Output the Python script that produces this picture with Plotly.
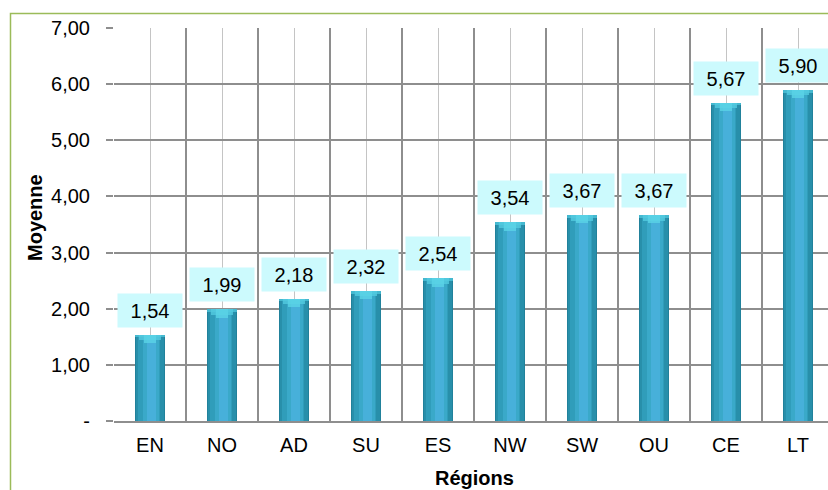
import plotly.graph_objects as go

# Average score by region
regions = ["EN", "NO", "AD", "SU", "ES", "NW", "SW", "OU", "CE", "LT"]
moyennes = [1.54, 1.99, 2.18, 2.32, 2.54, 3.54, 3.67, 3.67, 5.67, 5.90]
y_ticks = [0, 1, 2, 3, 4, 5, 6, 7]
y_ticktext = ["-", "1,00", "2,00", "3,00", "4,00", "5,00", "6,00", "7,00"]

W, H = 828, 490
L, R, T, B = 114, 0, 28, 69
pw, ph = W - L - R, H - T - B

def px_x(x):
    return (x - L) / pw

def px_y(y):
    return (H - B - y) / ph

x = list(range(len(regions)))
FONT = "Liberation Sans, Arial"

fig = go.Figure()

# Layered bars of decreasing width give a cylindrical shading
layers = [
    (0.43, "#21819b", 0.0),
    (0.38, "#288faa", 0.0),
    (0.31, "#309dba", -0.01),
    (0.22, "#3aa9c9", 0.01),
    (0.12, "#47b0da", 0.02),
]
for w, c, off in layers:
    fig.add_trace(go.Bar(
        x=x, y=moyennes, width=w, offset=-w / 2 + off,
        marker=dict(color=c, line=dict(width=0)),
        hoverinfo="skip", showlegend=False,
    ))

# V-shaped light cap at the top of each column
caps = [
    (0.42, 0.05, "#4cc3da"),
    (0.30, 0.10, "#52cbe0"),
    (0.16, 0.15, "#5ad3e6"),
]
for w, hgt, c in caps:
    fig.add_trace(go.Bar(
        x=x, y=[hgt] * len(x), base=[v - hgt for v in moyennes], width=w,
        marker=dict(color=c, line=dict(width=0), opacity=0.8),
        hoverinfo="skip", showlegend=False,
    ))

# Value labels in light cyan boxes
for xi, v in zip(x, moyennes):
    fig.add_annotation(
        x=xi, y=v, xref="x", yref="y",
        text=f"{v:.2f}".replace(".", ","),
        showarrow=False, xanchor="center", yanchor="bottom", yshift=7,
        bgcolor="#ccfafd", width=60, height=29, borderpad=2,
        font=dict(family=FONT, size=20, color="#000000"),
    )

# Axis titles
fig.add_annotation(
    x=px_x(35), y=px_y(218), xref="paper", yref="paper",
    xanchor="center", yanchor="middle",
    text="<b>Moyenne</b>", textangle=-90, showarrow=False,
    font=dict(family=FONT, size=20, color="#000000"),
)
fig.add_annotation(
    x=px_x(474), y=px_y(478), xref="paper", yref="paper",
    xanchor="center", yanchor="middle",
    text="<b>Régions</b>", showarrow=False,
    font=dict(family=FONT, size=20, color="#000000"),
)

# Outer chart border
fig.add_shape(
    type="rect", xref="paper", yref="paper",
    x0=px_x(10.5), x1=1.2, y0=-0.4, y1=px_y(13.5),
    line=dict(color="#9bbb59", width=1.5), layer="above",
)

fig.update_layout(
    width=W, height=H,
    margin=dict(l=L, r=R, t=T, b=B, autoexpand=False),
    paper_bgcolor="white", plot_bgcolor="white",
    barmode="overlay", bargap=0,
    font=dict(family=FONT, size=20, color="#000000"),
    showlegend=False,
)
fig.update_xaxes(
    range=[-0.5, 9.5 - 6 / 72],
    tickmode="array", tickvals=x, ticktext=regions,
    showgrid=True, gridcolor="#c4c4c4", gridwidth=1,
    minor=dict(tickmode="linear", tick0=0.5, dtick=1, showgrid=True,
               gridcolor="#8e8e8e", gridwidth=1.5, ticks=""),
    showline=True, linecolor="#8e8e8e", linewidth=2,
    ticks="", zeroline=False,
    ticklabelstandoff=5,
    tickfont=dict(size=20),
    fixedrange=True,
)
fig.update_yaxes(
    range=[0, 7],
    tickmode="array", tickvals=y_ticks, ticktext=y_ticktext,
    showgrid=True, gridcolor="#8e8e8e", gridwidth=1.5,
    ticks="outside", ticklen=7, tickcolor="#8e8e8e", tickwidth=1.5,
    showline=False, zeroline=False,
    ticklabelstandoff=12,
    tickfont=dict(size=20),
    fixedrange=True,
)

fig.write_html("out.html")
